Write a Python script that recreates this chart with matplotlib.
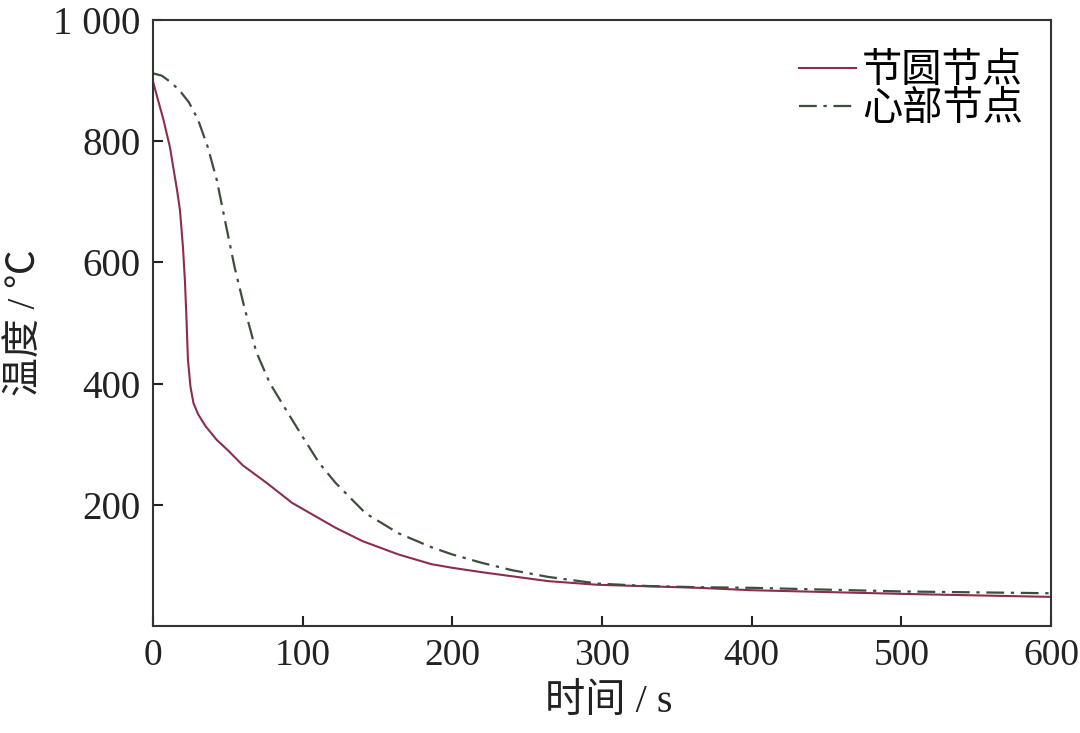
import matplotlib
matplotlib.use("Agg")
import matplotlib.pyplot as plt

plt.rcParams['font.family'] = ['Liberation Serif', 'Noto Sans CJK SC']

# time (s) and temperature (C)
t_pitch = [0, 7, 11.3, 16, 18, 20, 21.3, 22.3, 23.3, 25, 27, 30, 35, 42.6, 50, 60,
           76, 93, 122, 140, 164, 186, 200, 219, 231, 264, 297, 364, 400, 500, 600]
T_pitch = [898, 835, 790, 720, 686, 625, 570, 510, 440, 395, 368, 350, 330, 307, 290, 265,
           236, 203, 162, 140, 118, 102, 96, 89, 85, 74, 68, 63, 59, 53, 48]

t_core = [0, 6, 12, 18, 24, 30, 36.6, 42.6, 48, 54.5, 61, 69, 78, 89, 100, 111, 122, 142,
          164, 186, 200, 220, 240, 264, 297, 330, 364, 400, 500, 600]
T_core = [912, 908, 897, 883, 864, 836, 790, 736, 670, 592, 526, 452, 401, 356, 312, 269, 236, 186,
          153, 130, 118, 104, 92, 81, 70, 66, 64, 63, 57, 54]

fig = plt.figure(figsize=(10.8, 7.33), dpi=100)
ax = fig.add_axes([0.1417, 0.146, 0.8315, 0.8267])

ax.plot(t_pitch, T_pitch, color="#8e2c4e", lw=1.5, label="节圆节点")
ax.plot(t_core, T_core, color="#3d4f3c", lw=1.6, ls=(0, (8, 3, 1.5, 3)), label="心部节点")

ax.set_xlim(0, 600)
ax.set_ylim(0, 1000)
ax.set_xticks([0, 100, 200, 300, 400, 500, 600])
ax.set_yticks([200, 400, 600, 800, 1000])
ax.set_yticklabels(["200", "400", "600", "800", "1 000"])
ax.tick_params(direction="in", length=7, width=1.5, labelsize=27, colors="#222222",
               top=False, right=False, pad=9)
ax.tick_params(axis="y", labelsize=28)

for s in ax.spines.values():
    s.set_linewidth(1.5)
    s.set_color("#333333")

ax.set_xlabel("时间 / s", fontsize=29, color="#222222")
ax.set_ylabel("温度 / ℃", fontsize=28, color="#222222")
ax.xaxis.set_label_coords(0.507, -0.095)
ax.yaxis.set_label_coords(-0.12, 0.5)

ax.legend(loc="upper right", bbox_to_anchor=(1.0, 0.99), frameon=False, fontsize=29,
          handlelength=1.4, handletextpad=0.15, labelspacing=0.0, borderaxespad=0.3)

fig.savefig("out.png", dpi=100)
